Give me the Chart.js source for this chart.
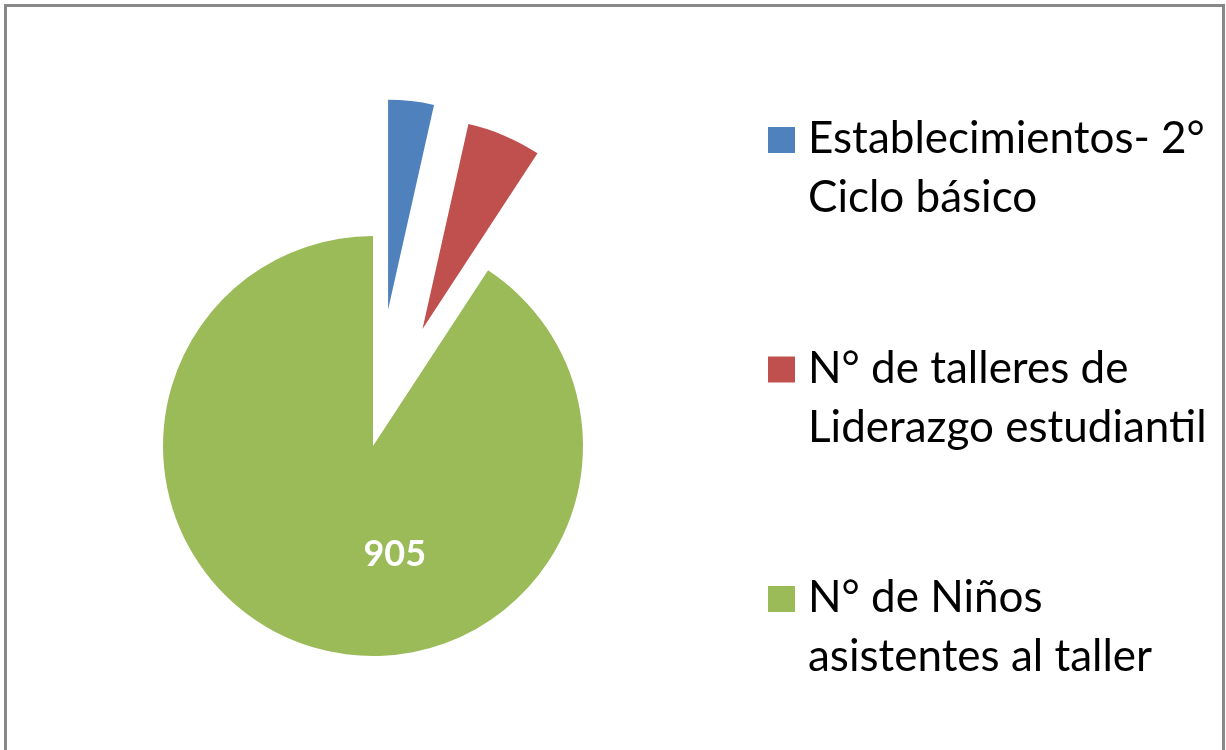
<!DOCTYPE html>
<html>
<head>
<meta charset="utf-8">
<script src="https://cdn.jsdelivr.net/npm/chart.js@4.4.1/dist/chart.umd.min.js"></script>
<style>
  body { margin: 0; background: #fff; }
  #wrap { position: relative; width: 1226px; height: 750px; overflow: hidden; }
  #frame { position: absolute; left: 4px; top: 4px; width: 1215px; height: 800px; border: 3px solid #888; }
  canvas { position: absolute; left: 0; top: 0; }
</style>
</head>
<body>
<div id="wrap">
  <div id="frame"></div>
  <canvas id="pieChart" width="1226" height="750"></canvas>
</div>
<script>
// categories (already split over two lines as in the legend)
const labels = [
  ['Establecimientos- 2°', 'Ciclo básico'],
  ['N° de talleres de', 'Liderazgo estudiantil'],
  ['N° de Niños', 'asistentes al taller']
];
const values = [35, 57, 905];
const colors = ['#4F81BD', '#C0504D', '#9BBB59'];
const explode = [137, 127, 0];       // px the slice is pulled out
const showValue = [false, false, true];

// pull exploded slices out along their middle angle
const explodePlugin = {
  id: 'explode',
  afterDatasetUpdate(chart, args) {
    args.meta.data.forEach((arc, i) => {
      const d = explode[i] || 0;
      if (!d) return;
      const mid = (arc.startAngle + arc.endAngle) / 2;
      arc.x += Math.cos(mid) * d;
      arc.y += Math.sin(mid) * d;
    });
  }
};

const valueLabelPlugin = {
  id: 'valueLabels',
  afterDatasetsDraw(chart) {
    const ctx = chart.ctx;
    chart.getDatasetMeta(0).data.forEach((arc, i) => {
      if (!showValue[i]) return;
      const a = arc.startAngle + (arc.endAngle - arc.startAngle) * 0.414;
      const r = arc.outerRadius * 0.52;
      ctx.save();
      ctx.fillStyle = '#fff';
      ctx.font = 'bold 36px Lato';
      ctx.textAlign = 'center';
      ctx.textBaseline = 'alphabetic';
      ctx.fillText(values[i], arc.x + Math.cos(a) * r, arc.y + Math.sin(a) * r + 13);
      ctx.restore();
    });
  }
};

const sideLegend = {
  id: 'sideLegend',
  afterDraw(chart) {
    const ctx = chart.ctx;
    ctx.save();
    ctx.font = '44px Lato';
    ctx.textBaseline = 'alphabetic';
    labels.forEach((lines, i) => {
      const base = 153 + i * 229.5;
      ctx.fillStyle = colors[i];
      ctx.fillRect(768, base - 26, 27, 26);
      ctx.fillStyle = '#000';
      lines.forEach((t, j) => ctx.fillText(t, 808, base + j * 59));
    });
    ctx.restore();
  }
};

window.addEventListener('load', () => {
  new Chart(document.getElementById('pieChart'), {
    type: 'pie',
    data: {
      labels: labels,
      datasets: [{
        data: values,
        backgroundColor: colors,
        borderWidth: 0
      }]
    },
    options: {
      responsive: false,
      animation: false,
      events: [],
      radius: 210,
      layout: { padding: { left: 0, right: 480, top: 142, bottom: 0 } },
      plugins: {
        legend: { display: false },
        tooltip: { enabled: false }
      }
    },
    plugins: [explodePlugin, valueLabelPlugin, sideLegend]
  });
});
</script>
</body>
</html>
